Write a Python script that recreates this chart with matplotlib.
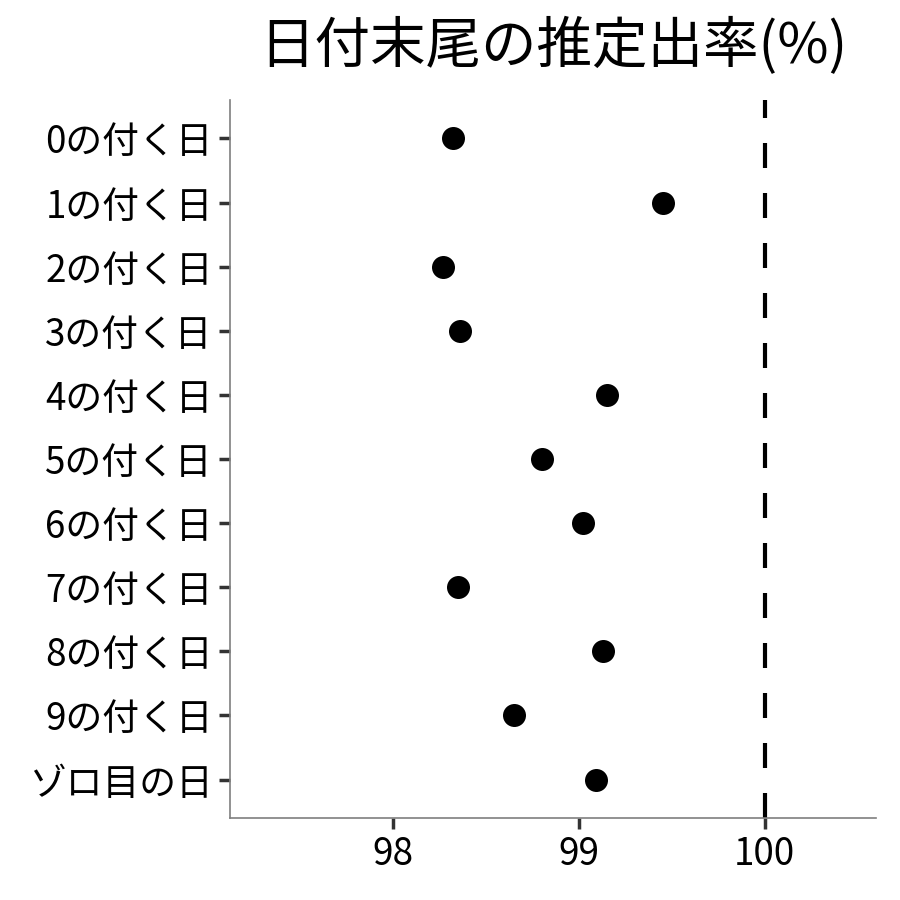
import matplotlib
matplotlib.use("Agg")
import matplotlib.pyplot as plt

plt.rcParams['font.family'] = ['Noto Sans CJK JP', 'DejaVu Sans']

categories = ["0の付く日", "1の付く日", "2の付く日", "3の付く日", "4の付く日",
              "5の付く日", "6の付く日", "7の付く日", "8の付く日", "9の付く日",
              "ゾロ目の日"]
values = [98.32, 99.45, 98.27, 98.36, 99.15, 98.80, 99.02, 98.35, 99.13, 98.65, 99.09]
x_ticks = [98, 99, 100]
ref_value = 100
title = "日付末尾の推定出率(%)"

fig = plt.figure(figsize=(9, 9), dpi=100)
ax = fig.add_axes([230/900, 1-818/900, (876-230)/900, (818-100)/900])

n = len(categories)
ypos = [n - 1 - i for i in range(n)]
ax.axvline(ref_value, color='black', lw=3, linestyle=(0, (6, 6)), zorder=1)
ax.scatter(values, ypos, s=23**2 * (72/100)**2, color='black', zorder=3, linewidths=0)

ax.set_ylim(-0.6, n - 1 + 0.6)
ax.set_xlim(97.12, 100.60)
ax.set_yticks(ypos)
ax.set_yticklabels(categories)
ax.set_xticks(x_ticks)
ax.set_xticklabels([str(t) for t in x_ticks])

for s in ['top', 'right']:
    ax.spines[s].set_visible(False)
for s in ['left', 'bottom']:
    ax.spines[s].set_color('#7f7f7f')
    ax.spines[s].set_linewidth(1.2)

ax.tick_params(axis='both', which='major', length=8, width=2.5, color='#333333',
               labelsize=26.5, labelcolor='black', pad=4.5)

fig.text((230+876)/2/900, 1-47/900, title, ha='center', va='center', fontsize=40, color='black')

fig.savefig("out.png", dpi=100)
